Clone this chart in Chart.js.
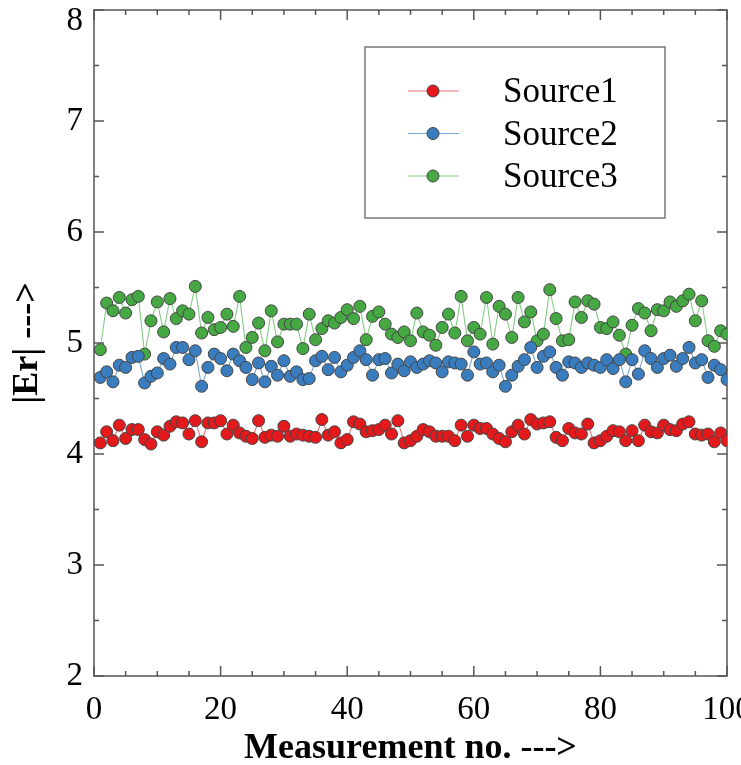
<!DOCTYPE html>
<html>
<head>
<meta charset="utf-8">
<script src="https://cdn.jsdelivr.net/npm/chart.js@4.4.1/dist/chart.umd.min.js"></script>
<style>
  html, body { margin: 0; padding: 0; background: #fff; }
  canvas { display: block; }
</style>
</head>
<body>
<canvas id="erChart" width="741" height="765"></canvas>
<script>
const measurementNo = [
  1, 2, 3, 4, 5, 6, 7, 8, 9, 10, 11, 12, 13, 14, 15, 16, 17, 18, 19, 20,
  21, 22, 23, 24, 25, 26, 27, 28, 29, 30, 31, 32, 33, 34, 35, 36, 37, 38, 39, 40,
  41, 42, 43, 44, 45, 46, 47, 48, 49, 50, 51, 52, 53, 54, 55, 56, 57, 58, 59, 60,
  61, 62, 63, 64, 65, 66, 67, 68, 69, 70, 71, 72, 73, 74, 75, 76, 77, 78, 79, 80,
  81, 82, 83, 84, 85, 86, 87, 88, 89, 90, 91, 92, 93, 94, 95, 96, 97, 98, 99, 100
];

const source1 = [
  4.10, 4.20, 4.12, 4.26, 4.14, 4.22, 4.22, 4.13, 4.09, 4.20,
  4.17, 4.25, 4.29, 4.28, 4.18, 4.30, 4.11, 4.28, 4.28, 4.30,
  4.18, 4.26, 4.19, 4.16, 4.14, 4.30, 4.15, 4.17, 4.16, 4.25,
  4.16, 4.18, 4.17, 4.16, 4.15, 4.31, 4.17, 4.20, 4.10, 4.13,
  4.29, 4.27, 4.20, 4.21, 4.22, 4.26, 4.18, 4.30, 4.10, 4.12,
  4.16, 4.22, 4.20, 4.16, 4.16, 4.16, 4.12, 4.26, 4.16, 4.26,
  4.23, 4.23, 4.18, 4.14, 4.11, 4.20, 4.26, 4.18, 4.31, 4.27,
  4.28, 4.29, 4.15, 4.12, 4.23, 4.19, 4.18, 4.27, 4.10, 4.12,
  4.16, 4.21, 4.20, 4.12, 4.21, 4.12, 4.26, 4.20, 4.19, 4.26,
  4.22, 4.21, 4.27, 4.29, 4.18, 4.17, 4.18, 4.11, 4.19, 4.12
];

const source2 = [
  4.69, 4.74, 4.65, 4.80, 4.78, 4.87, 4.88, 4.64, 4.70, 4.73,
  4.86, 4.81, 4.96, 4.96, 4.85, 4.93, 4.61, 4.78, 4.90, 4.86,
  4.75, 4.90, 4.84, 4.78, 4.67, 4.82, 4.65, 4.79, 4.71, 4.84,
  4.70, 4.74, 4.67, 4.68, 4.84, 4.88, 4.76, 4.87, 4.74, 4.80,
  4.87, 4.93, 4.85, 4.71, 4.85, 4.86, 4.73, 4.81, 4.75, 4.83,
  4.78, 4.81, 4.84, 4.82, 4.74, 4.83, 4.82, 4.81, 4.71, 4.92,
  4.81, 4.82, 4.74, 4.80, 4.61, 4.71, 4.79, 4.85, 4.96, 4.78,
  4.88, 4.92, 4.78, 4.71, 4.83, 4.82, 4.78, 4.82, 4.80, 4.78,
  4.85, 4.77, 4.85, 4.65, 4.85, 4.72, 4.93, 4.86, 4.78, 4.86,
  4.89, 4.79, 4.86, 4.96, 4.82, 4.85, 4.69, 4.80, 4.76, 4.67
];

const source3 = [
  4.94, 5.36, 5.29, 5.41, 5.27, 5.39, 5.42, 4.90, 5.20, 5.37,
  5.10, 5.40, 5.22, 5.29, 5.26, 5.51, 5.09, 5.23, 5.12, 5.14,
  5.26, 5.15, 5.42, 4.96, 5.05, 5.18, 4.93, 5.29, 5.01, 5.17,
  5.17, 5.17, 4.95, 5.26, 5.03, 5.13, 5.20, 5.18, 5.23, 5.30,
  5.22, 5.33, 5.03, 5.24, 5.28, 5.17, 5.08, 5.05, 5.10, 5.02,
  5.27, 5.10, 5.07, 4.98, 5.14, 5.26, 5.09, 5.42, 5.02, 5.14,
  5.08, 5.41, 4.99, 5.33, 5.26, 5.05, 5.41, 5.19, 5.28, 5.02,
  5.08, 5.48, 5.22, 5.02, 5.03, 5.37, 5.23, 5.38, 5.35, 5.14,
  5.13, 5.19, 5.07, 4.90, 5.16, 5.31, 5.27, 5.11, 5.30, 5.29,
  5.37, 5.33, 5.38, 5.44, 5.20, 5.38, 5.02, 4.97, 5.11, 5.08
];

const seriesNames = ['Source1', 'Source2', 'Source3'];
const xTicks = [0, 20, 40, 60, 80, 100];
const yTicks = [2, 3, 4, 5, 6, 7, 8];

const markerColors = ['#e3191c', '#3a7dbf', '#45a843'];
const lineColors = ['rgba(235,90,90,0.85)', 'rgba(95,150,205,0.85)', 'rgba(110,195,110,0.85)'];
const serif = '"Liberation Serif", "DejaVu Serif", serif';

function toPoints(values) {
    return values.map((v, i) => ({ x: measurementNo[i], y: v }));
}

// box round the plot with small ticks pointing inward on all four sides
const framePlugin = {
    id: 'frame',
    beforeDatasetsDraw(chart) {
        const { ctx, chartArea: a, scales: { x, y } } = chart;
        ctx.save();
        ctx.strokeStyle = '#555';
        ctx.lineWidth = 1.5;
        for (let v = 0; v <= 100; v += 5) {
            const px = x.getPixelForValue(v);
            const len = v % 20 === 0 ? 10 : 5;
            ctx.beginPath();
            ctx.moveTo(px, a.bottom); ctx.lineTo(px, a.bottom - len);
            ctx.moveTo(px, a.top); ctx.lineTo(px, a.top + len);
            ctx.stroke();
        }
        for (let v = 2; v <= 8; v += 0.5) {
            const py = y.getPixelForValue(v);
            const len = v % 1 === 0 ? 10 : 5;
            ctx.beginPath();
            ctx.moveTo(a.left, py); ctx.lineTo(a.left + len, py);
            ctx.moveTo(a.right, py); ctx.lineTo(a.right - len, py);
            ctx.stroke();
        }
        ctx.strokeRect(a.left, a.top, a.right - a.left, a.bottom - a.top);

        // the top y label sits a little below its tick so it is not cut off
        const top = yTicks[yTicks.length - 1];
        ctx.fillStyle = '#000';
        ctx.font = '33px ' + serif;
        ctx.textAlign = 'right';
        ctx.textBaseline = 'middle';
        ctx.fillText(String(top), a.left - 11, Math.max(y.getPixelForValue(top), 21));
        ctx.restore();
    }
};

// legend in a framed box inside the plot, top right
const boxLegendPlugin = {
    id: 'boxLegend',
    afterDraw(chart) {
        const { ctx, chartArea: a } = chart;
        const bx = a.left + 271, by = a.top + 37, bw = 300, bh = 171;
        ctx.save();
        ctx.fillStyle = '#fff';
        ctx.fillRect(bx, by, bw, bh);
        ctx.strokeStyle = '#777';
        ctx.lineWidth = 1.5;
        ctx.strokeRect(bx, by, bw, bh);
        chart.data.datasets.forEach((ds, i) => {
            const cy = by + 44 + i * 42.5;
            ctx.strokeStyle = ds.borderColor;
            ctx.lineWidth = 1.2;
            ctx.beginPath();
            ctx.moveTo(bx + 43, cy); ctx.lineTo(bx + 94, cy);
            ctx.stroke();
            ctx.beginPath();
            ctx.arc(bx + 68, cy, 6, 0, Math.PI * 2);
            ctx.fillStyle = ds.pointBackgroundColor;
            ctx.fill();
            ctx.strokeStyle = '#444';
            ctx.lineWidth = 1;
            ctx.stroke();
            ctx.fillStyle = '#000';
            ctx.font = '35px ' + serif;
            ctx.textBaseline = 'middle';
            ctx.textAlign = 'left';
            ctx.fillText(ds.label, bx + 138, cy + 2);
        });
        ctx.restore();
    }
};

const datasets = [source1, source2, source3].map((values, i) => ({
    label: seriesNames[i],
    data: toPoints(values),
    borderColor: lineColors[i],
    borderWidth: 1.1,
    pointBackgroundColor: markerColors[i],
    pointBorderColor: '#444',
    pointBorderWidth: 1,
    pointRadius: 6,
    tension: 0
}));

new Chart(document.getElementById('erChart'), {
    type: 'line',
    data: { datasets },
    options: {
        responsive: false,
        animation: false,
        layout: { padding: { top: 10, right: 14, left: 0, bottom: 0 } },
        plugins: { legend: { display: false }, tooltip: { enabled: false } },
        scales: {
            x: {
                type: 'linear',
                min: 0,
                max: 100,
                afterBuildTicks(s) { s.ticks = xTicks.map(v => ({ value: v })); },
                ticks: { padding: 15, color: '#000', font: { family: serif, size: 33 }, maxRotation: 0, autoSkip: false },
                grid: { display: false, drawTicks: false },
                border: { display: false },
                title: {
                    display: true,
                    text: 'Measurement no. --->',
                    color: '#000',
                    font: { family: serif, size: 36, weight: 'bold', lineHeight: 0.88 },
                    padding: { top: 0, bottom: 0 }
                },
                afterFit(s) { s.height = 89; s.paddingLeft = 0; s.paddingRight = 0; }
            },
            y: {
                min: 2,
                max: 8,
                afterBuildTicks(s) { s.ticks = yTicks.map(v => ({ value: v })); },
                afterTickToLabelConversion(s) { s.ticks[s.ticks.length - 1].label = ''; },
                ticks: { padding: 11, color: '#000', font: { family: serif, size: 33 } },
                grid: { display: false, drawTicks: false },
                border: { display: false },
                title: {
                    display: true,
                    text: '|Er| --->',
                    color: '#000',
                    font: { family: serif, size: 36, weight: 'bold', lineHeight: 1.1 },
                    padding: { top: 8, bottom: 0 }
                },
                afterFit(s) { s.width = 94; s.paddingTop = 0; s.paddingBottom = 0; }
            }
        }
    },
    plugins: [framePlugin, boxLegendPlugin]
});
</script>
</body>
</html>
